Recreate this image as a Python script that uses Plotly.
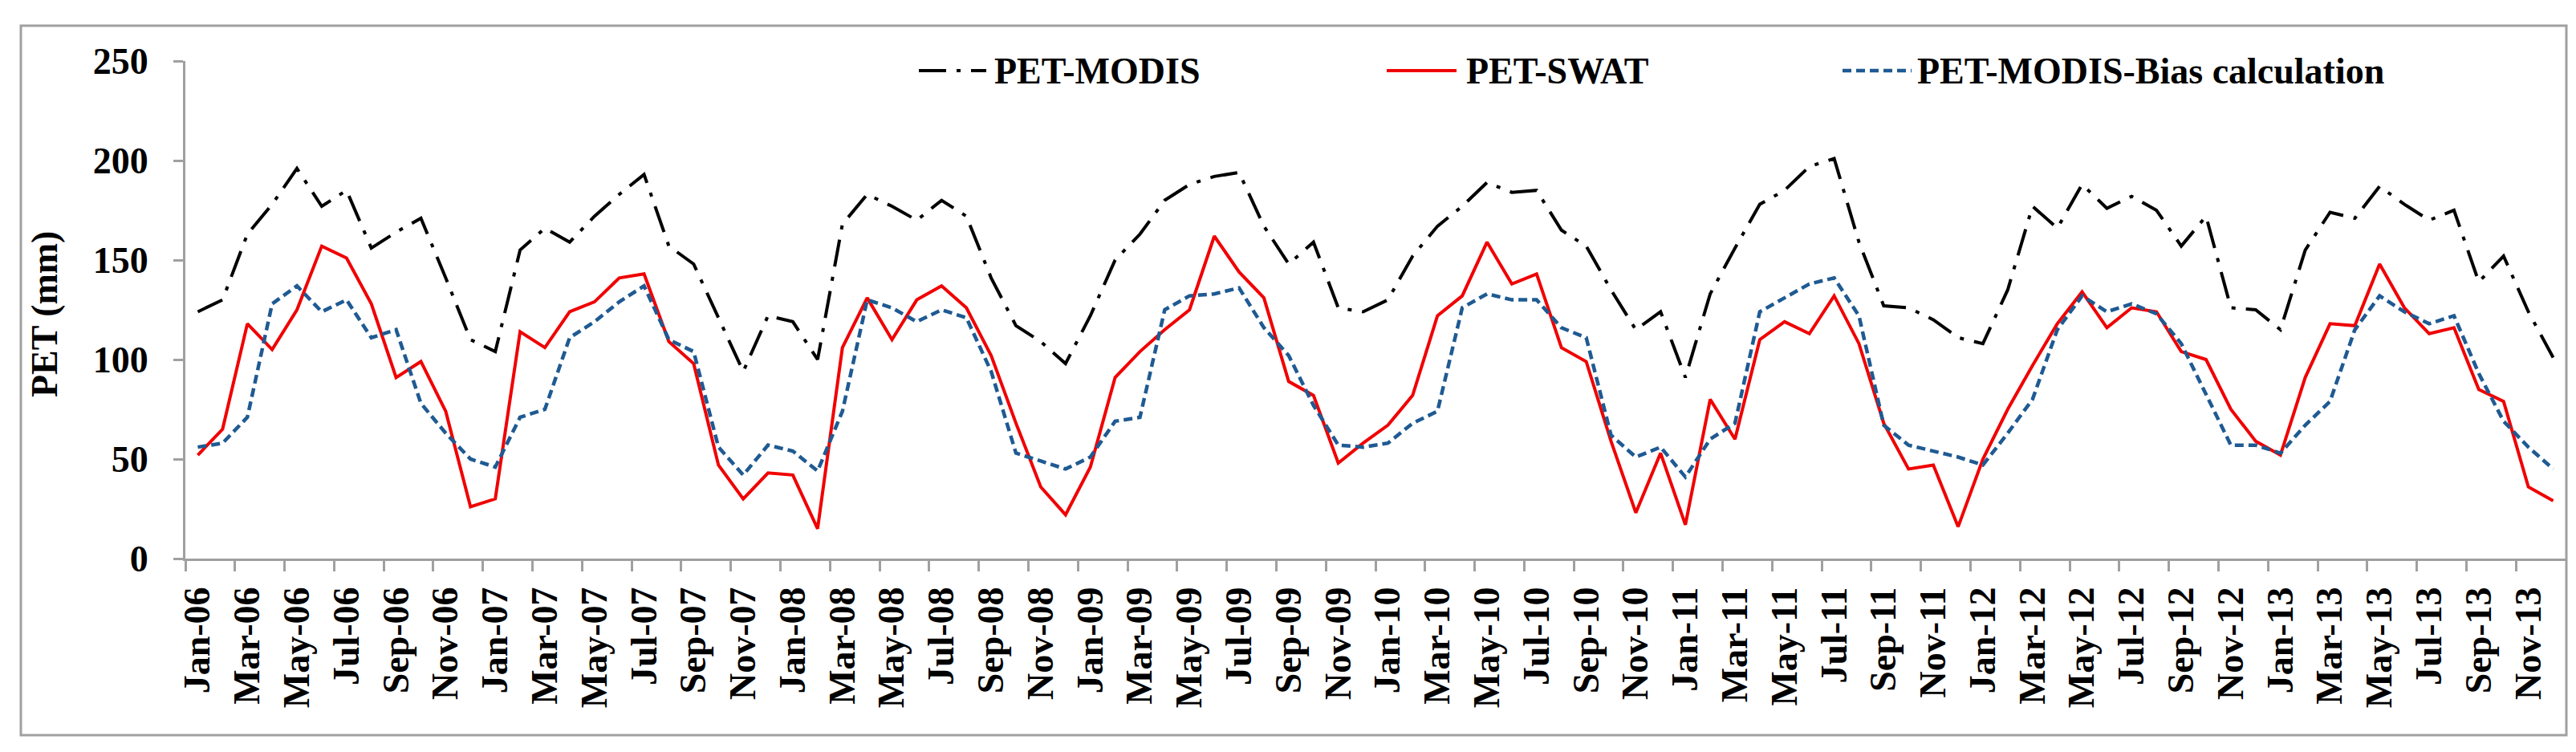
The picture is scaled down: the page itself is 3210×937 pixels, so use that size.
import pandas as pd
import plotly.graph_objects as go

# monthly PET values, Jan-2006 .. Dec-2013
months = pd.date_range("2006-01-01", "2013-12-01", freq="MS")
month_labels = [m.strftime("%b-%y") for m in months]

pet_modis = [
    124, 130, 163, 178, 196, 177, 185, 156, 164, 171, 141, 110,
    104, 155, 166, 159, 172, 183, 193, 157, 148, 121, 94, 122,
    119, 100, 168, 183, 177, 170, 180, 172, 141, 117, 109, 98,
    122, 150, 163, 180, 188, 192, 194, 167, 148, 159, 126, 124,
    130, 152, 167, 177, 189, 184, 185, 165, 157, 135, 115, 124,
    91, 133, 156, 178, 185, 197, 201, 159, 127, 126, 120, 111,
    108, 135, 177, 166, 188, 176, 182, 175, 157, 172, 126, 125,
    115, 155, 174, 171, 187, 178, 170, 175, 139, 152, 124, 101,
]
pet_swat = [
    52, 65, 118, 105, 125, 157, 151, 128, 91, 99, 74, 26,
    30, 114, 106, 124, 129, 141, 143, 109, 98, 47, 30, 43,
    42, 15, 106, 131, 110, 130, 137, 126, 102, 68, 36, 22,
    46, 91, 104, 115, 125, 162, 144, 131, 89, 82, 48, 58,
    67, 82, 122, 132, 159, 138, 143, 106, 99, 59, 23, 53,
    17, 80, 60, 110, 119, 113, 132, 108, 68, 45, 47, 16,
    50, 75, 97, 118, 134, 116, 126, 124, 104, 100, 75, 59,
    52, 91, 118, 117, 148, 126, 113, 116, 85, 79, 36, 29,
]
pet_bias = [
    56, 58, 71, 128, 137, 124, 130, 111, 115, 78, 63, 50,
    46, 71, 75, 111, 119, 129, 137, 110, 104, 56, 42, 57,
    54, 44, 74, 130, 126, 119, 125, 121, 94, 53, 49, 45,
    51, 69, 71, 125, 132, 133, 136, 116, 102, 77, 57, 56,
    58, 68, 74, 126, 133, 130, 130, 116, 111, 62, 51, 56,
    41, 60, 68, 124, 131, 138, 141, 122, 67, 57, 54, 51,
    47, 63, 80, 115, 132, 124, 128, 123, 108, 82, 57, 57,
    53, 67, 79, 115, 132, 124, 118, 122, 93, 69, 56, 45,
]
y_ticks = [0, 50, 100, 150, 200, 250]

series = [
    ("PET-MODIS", pet_modis, "#000000", "34px,13px,5px,13px", 4),
    ("PET-SWAT", pet_swat, "#F00000", "solid", 4),
    ("PET-MODIS-Bias calculation", pet_bias, "#1F5A92", "11px,6px", 4.5),
]

# page geometry in pixels
W, H = 3210, 937
L, R, T, B = 223, 3189, 68, 688
PW, PH = R - L, B - T


def px(x):
    return (x - L) / PW


def py(y):
    return (B - y) / PH


FONT = "Liberation Serif"
AXIS_GREY = "#A0A0A0"
bold = dict(family=FONT, size=46, weight="bold", color="black")

x = list(range(len(months)))
fig = go.Figure()
for name, vals, color, dash, width in series:
    fig.add_trace(go.Scatter(
        x=x, y=vals, mode="lines", name=name, showlegend=False,
        line=dict(color=color, dash=dash, width=width),
    ))

fig.update_layout(
    width=W, height=H,
    margin=dict(l=L, r=W - R, t=T, b=H - B),
    paper_bgcolor="white", plot_bgcolor="white",
    font=bold,
)

fig.update_xaxes(
    range=[-0.5, len(months) - 0.5],
    tickmode="array",
    tickvals=x[::2],
    ticktext=month_labels[::2],
    tickangle=-90,
    ticks="",
    ticklabelstandoff=14,
    tickfont=bold,
    showline=True, linecolor=AXIS_GREY, linewidth=3,
    showgrid=False, zeroline=False,
    minor=dict(
        tickmode="array",
        tickvals=[i - 0.5 for i in x[::2]],
        ticks="outside", ticklen=13, tickwidth=3, tickcolor=AXIS_GREY,
        showgrid=False,
    ),
)
fig.update_yaxes(
    range=[0, 250],
    tickmode="array", tickvals=y_ticks,
    ticks="outside", ticklen=12, tickwidth=3, tickcolor=AXIS_GREY,
    ticklabelstandoff=22,
    tickfont=bold,
    showline=True, linecolor=AXIS_GREY, linewidth=3,
    showgrid=False, zeroline=False,
)

# outer chart border
fig.add_shape(
    type="rect", xref="paper", yref="paper",
    x0=px(18), x1=px(3190), y0=py(908), y1=py(24),
    line=dict(color=AXIS_GREY, width=3), fillcolor="rgba(0,0,0,0)",
)

# y axis title
fig.add_annotation(
    text="PET (mm)", xref="paper", yref="paper",
    x=px(47), y=py(384), xanchor="center", yanchor="middle",
    textangle=-90, showarrow=False, font=bold,
)

# legend drawn by hand so the line samples match the original length
legend_pos = [(1137, 1221, 1229), (1720, 1807, 1817), (2288, 2374, 2379)]
legend_y = 80
for (name, _, color, dash, width), (s0, s1, tx) in zip(series, legend_pos):
    fig.add_shape(
        type="line", xref="paper", yref="paper",
        x0=px(s0), x1=px(s1), y0=py(legend_y), y1=py(legend_y),
        line=dict(color=color, dash=dash, width=width),
    )
    fig.add_annotation(
        text=name, xref="paper", yref="paper",
        x=px(tx), y=py(legend_y), xanchor="left", yanchor="middle",
        showarrow=False, font=bold,
    )

fig.write_html("out.html")
